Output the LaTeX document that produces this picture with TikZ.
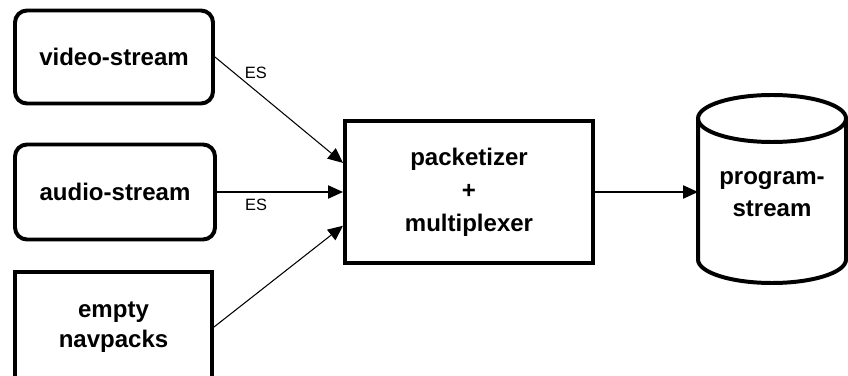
\documentclass[tikz,border=0pt]{standalone}
\usepackage{fontspec}
\setmainfont{Liberation Sans}
\usetikzlibrary{arrows.meta}

\begin{document}
\begin{tikzpicture}[x=0.03cm, y=-0.03cm,
   box/.style={draw, line width=3.4pt, align=center,
      font=\fontsize{20.5}{26}\selectfont\bfseries},
   feed/.style={line width=0.9pt, -{Triangle[length=0.45cm, width=0.4cm]}},
   es/.style={font=\fontsize{14}{16}\selectfont}]
   \useasboundingbox (0,0) rectangle (848,376);

   \node[box, rounded corners=0.36cm, minimum width=5.94cm, minimum height=2.79cm] (video) at (114,57) {video-stream};
   \node[box, rounded corners=0.36cm, minimum width=6cm, minimum height=2.85cm] (audio) at (115,192) {audio-stream};
   \node[box, minimum width=5.91cm, minimum height=3.3cm] (navpack) at (113.5,327) {empty\\navpacks};
   \node[box, minimum width=7.44cm, minimum height=4.26cm, font=\fontsize{20.5}{28}\selectfont\bfseries] (packer) at (469,192) {packetizer\\+\\multiplexer};
   % the store: a cylinder drawn round a plain node
   \node[box, draw=none, outer sep=0pt, minimum width=4.44cm, font=\fontsize{20.5}{27.5}\selectfont\bfseries] (store) at (772,194) {program-\\stream};
   \draw[line width=3.4pt] (store.west |- 0,118.5) -- (store.west |- 0,259.5)
      arc[start angle=180, end angle=360, x radius=2.22cm, y radius=0.705cm]
      -- (store.east |- 0,118.5);
   \draw[line width=3.4pt] (store.north |- 0,118.5) ellipse[x radius=2.22cm, y radius=0.705cm];

   \draw[feed] (video.east) -- (packer.167) node[es, pos=0.22, anchor=south west, inner sep=1pt] (es1) {ES};
   \draw[feed] (audio.east) -- (audio.east -| packer.west) node[es, pos=0.31, below=2pt] (es2) {ES};
   \draw[feed] (navpack.east) -- (packer.195);
   \draw[feed] (packer.east) -- (store.west |- packer.east);
\end{tikzpicture}
\end{document}
